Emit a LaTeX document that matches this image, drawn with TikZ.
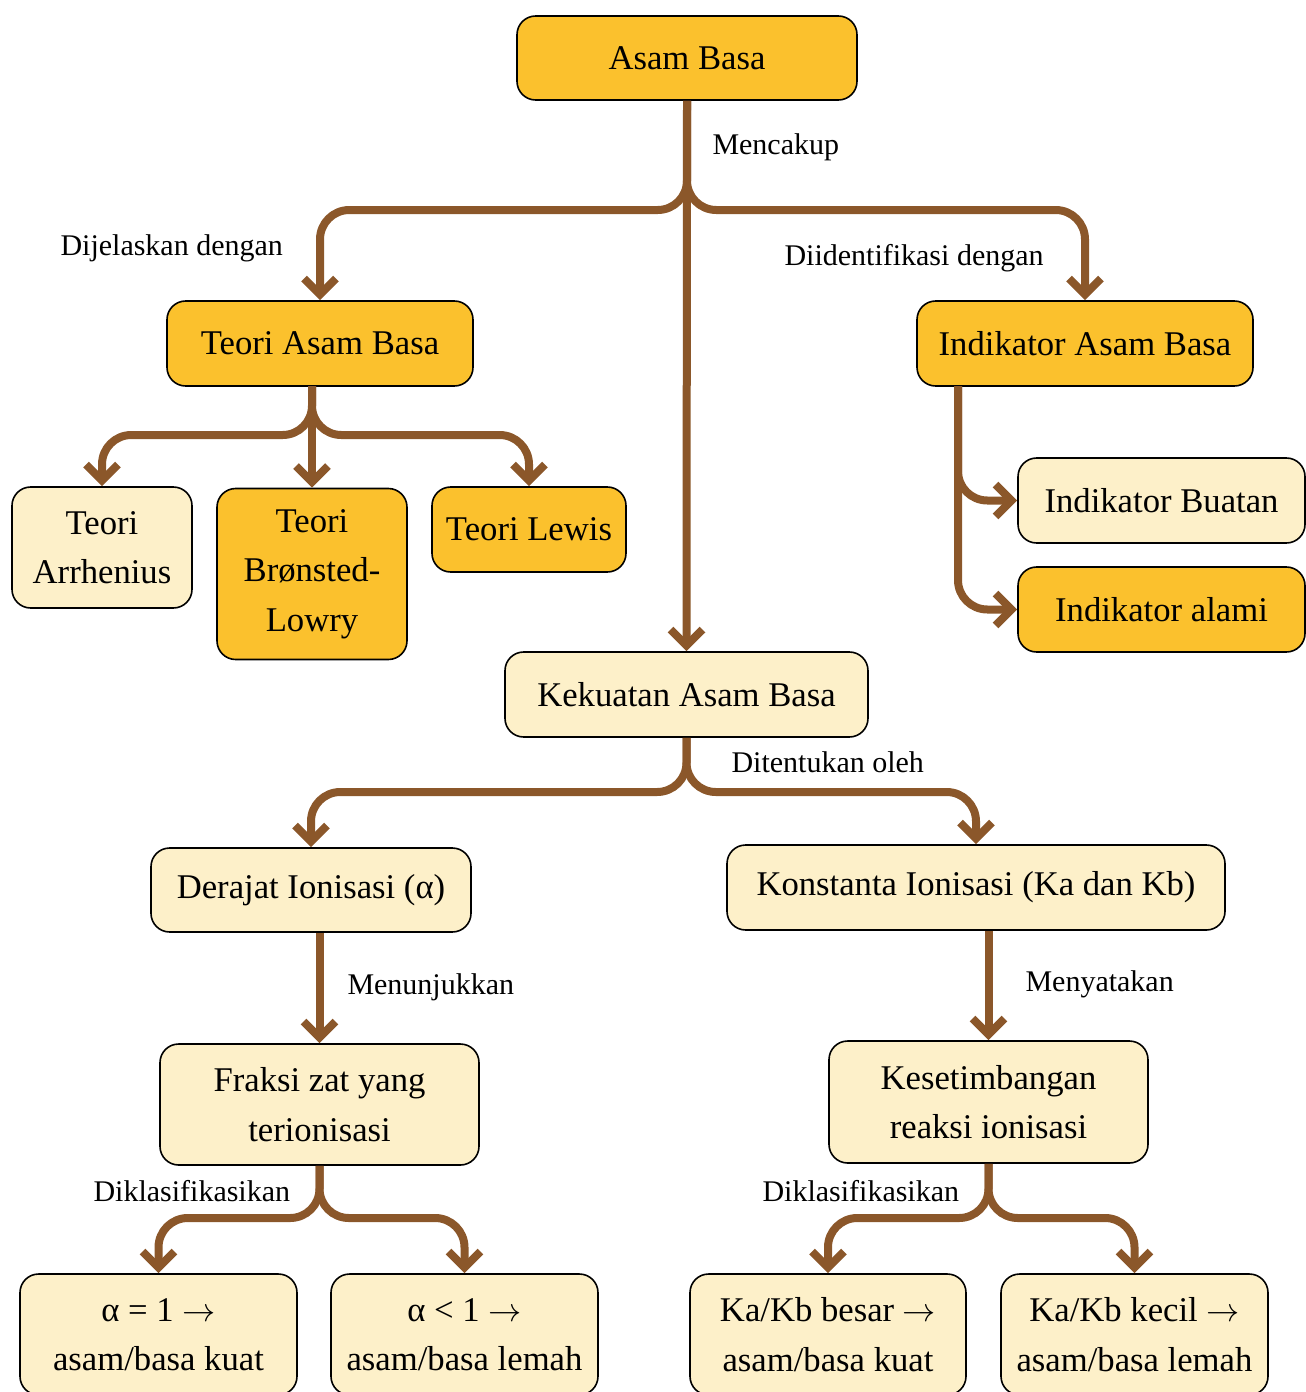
\documentclass[tikz,border=0pt]{standalone}
\usepackage{fontspec}
\setmainfont{Liberation Serif}
\usetikzlibrary{arrows.meta}
\definecolor{gold}{RGB}{251,193,45}
\definecolor{cream}{RGB}{253,240,201}
\definecolor{brownline}{RGB}{139,87,42}
\tikzset{every picture/.style={line width=0.75pt}}

\begin{document}
\begin{tikzpicture}[x=0.75pt,y=0.75pt,yscale=-1,xscale=1,
  box/.style={draw=black,line width=1.2pt,rounded corners=14pt,align=center,inner sep=0pt,font=\fontsize{26}{37}\selectfont},
  goldbox/.style={box,fill=gold},
  creambox/.style={box,fill=cream},
  link/.style={draw=brownline,line width=6pt,rounded corners=22pt,-{Straight Barb[length=12pt,width=24pt]}},
  lbl/.style={anchor=west,inner sep=0pt,font=\fontsize{22.5}{26}\selectfont}]
\useasboundingbox (0,0) rectangle (1306,1392);

%Shape: Boxes
\node [goldbox,minimum width=255pt,minimum height=63pt] (asam) at (687,58) {Asam Basa};
\node [goldbox,minimum width=229.5pt,minimum height=63.75pt] (teori) at (320,343.5) {Teori Asam Basa};
\node [goldbox,minimum width=252pt,minimum height=63.75pt] (indikator) at (1085,343.5) {Indikator Asam Basa};
\node [creambox,minimum width=135pt,minimum height=90.75pt] (arrhenius) at (102,547.5) {Teori\\Arrhenius};
\node [goldbox,minimum width=142.5pt,minimum height=128.25pt] (bronsted) at (312,574) {Teori\\Brønsted-\\Lowry};
\node [goldbox,minimum width=145.5pt,minimum height=63.75pt] (lewis) at (529,529.5) {Teori Lewis};
\node [creambox,minimum width=215.25pt,minimum height=63.75pt] (buatan) at (1161.5,500.5) {Indikator Buatan};
\node [goldbox,minimum width=215.25pt,minimum height=63.75pt] (alami) at (1161.5,609.5) {Indikator alami};
\node [creambox,minimum width=272.25pt,minimum height=63.75pt] (kekuatan) at (686.5,694.5) {Kekuatan Asam Basa};
\node [creambox,minimum width=240pt,minimum height=63pt] (derajat) at (311,890) {Derajat Ionisasi (α)};
\node [creambox,minimum width=373.5pt,minimum height=63.75pt] (konstanta) at (976,887.5) {Konstanta Ionisasi (Ka dan Kb)};
\node [creambox,minimum width=239.25pt,minimum height=90.75pt] (fraksi) at (319.5,1104.5) {Fraksi zat yang\\terionisasi};
\node [creambox,minimum width=239.25pt,minimum height=91.5pt] (setimbang) at (988.5,1102) {Kesetimbangan\\reaksi ionisasi};
\node [creambox,minimum width=207.75pt,minimum height=90.75pt] (kuat) at (158.5,1334.5) {α = 1 $\rightarrow$\\asam/basa kuat};
\node [creambox,minimum width=200.25pt,minimum height=90.75pt] (lemah) at (464.5,1334.5) {α < 1 $\rightarrow$\\asam/basa lemah};
\node [creambox,minimum width=207pt,minimum height=90.75pt] (besar) at (828,1334.5) {Ka/Kb besar $\rightarrow$\\asam/basa kuat};
\node [creambox,minimum width=200.25pt,minimum height=90.75pt] (kecil) at (1134.5,1334.5) {Ka/Kb kecil $\rightarrow$\\asam/basa lemah};

%Branch points
\coordinate (forkA) at (687,210);
\coordinate (stemT) at (312,386);
\coordinate (forkT) at (312,435);
\coordinate (stemI) at (958,386);
\coordinate (forkK) at (686.5,792);
\coordinate (forkF) at (319.5,1218);
\coordinate (forkS) at (988.5,1218);

%Connectors
\draw [link] (asam.south) -- (forkA) -| (teori.north);
\draw [link] (asam.south) -- (forkA) -| (indikator.north);
\draw [link] (asam.south) -- (kekuatan.north);
\draw [link] (stemT) -- (forkT) -| (arrhenius.north);
\draw [link] (stemT) -- (forkT) -| (lewis.north);
\draw [link] (stemT) -- (bronsted.north);
\draw [link] (stemI) |- (buatan.west);
\draw [link] (stemI) |- (alami.west);
\draw [link] (kekuatan.south) -- (forkK) -| (derajat.north);
\draw [link] (kekuatan.south) -- (forkK) -| (konstanta.north);
\draw [link] (derajat.south -| fraksi.north) -- (fraksi.north);
\draw [link] (konstanta.south -| setimbang.north) -- (setimbang.north);
\draw [link] (fraksi.south) -- (forkF) -| (kuat.north);
\draw [link] (fraksi.south) -- (forkF) -| (lemah.north);
\draw [link] (setimbang.south) -- (forkS) -| (besar.north);
\draw [link] (setimbang.south) -- (forkS) -| (kecil.north);

% Text Node
\node [lbl] (lmencakup) at (712,147) {Mencakup};
% Text Node
\node [lbl] (ldijelaskan) at (60,248) {Dijelaskan dengan};
% Text Node
\node [lbl] (ldiidentifikasi) at (784,258) {Diidentifikasi dengan};
% Text Node
\node [lbl] (lditentukan) at (731,762) {Ditentukan oleh};
% Text Node
\node [lbl] (lmenunjukkan) at (347,987) {Menunjukkan};
% Text Node
\node [lbl] (lmenyatakan) at (1025,984) {Menyatakan};
% Text Node
\node [lbl] (lklasA) at (93,1191) {Diklasifikasikan};
% Text Node
\node [lbl] (lklasB) at (762,1191) {Diklasifikasikan};

\end{tikzpicture}
\end{document}
